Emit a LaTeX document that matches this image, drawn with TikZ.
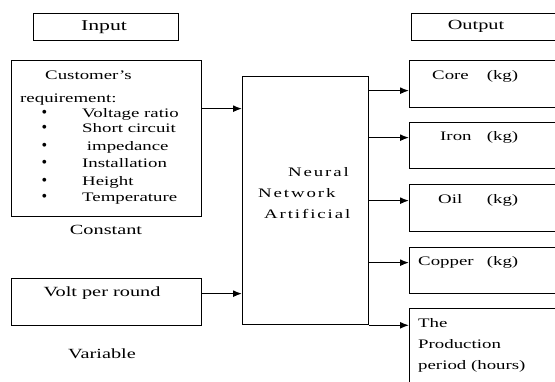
\documentclass[tikz,border=0pt]{standalone}
\usepackage{fontspec}
\setmainfont{Liberation Serif}
\newfontfamily\nnfont{Liberation Serif}[LetterSpace=10]
\usetikzlibrary{arrows.meta}
\newcommand\sx[1]{\scalebox{1.45}[1]{#1}}
\begin{document}
\begin{tikzpicture}[x=1pt,y=1pt,
  box/.style={draw,line width=1.3pt,inner sep=0pt,anchor=north west},
  txt/.style={inner sep=0pt,anchor=base west,font=\fontsize{13}{15}\selectfont},
  ctxt/.style={inner sep=0pt,anchor=base,font=\fontsize{13}{15}\selectfont},
  arr/.style={line width=1.3pt,-{Latex[length=9pt,width=7pt]}}]
\useasboundingbox (0,0) rectangle (555,-382);
\clip (0,0) rectangle (555,-382);
% boxes
\node[box,minimum width=145,minimum height=27] (inbox) at (33,-13) {};
\node[box,minimum width=150,minimum height=27] (outbox) at (411,-13) {};
\node[box,minimum width=190,minimum height=156] (cust) at (11,-60) {};
\node[box,minimum width=190,minimum height=47] (volt) at (11,-278) {};
\node[box,minimum width=126,minimum height=248] (nn) at (242,-76) {};
\node[box,minimum width=152,minimum height=47] (core) at (409,-60) {};
\node[box,minimum width=152,minimum height=46] (iron) at (409,-122) {};
\node[box,minimum width=152,minimum height=47] (oil) at (409,-184) {};
\node[box,minimum width=152,minimum height=46] (copper) at (409,-247) {};
\node[box,minimum width=152,minimum height=90] (prod) at (409,-308) {};
% texts
\node[ctxt,font=\fontsize{15}{17}\selectfont] (tin) at (104,-31) {\sx{Input}};
\node[ctxt,font=\fontsize{14}{17}\selectfont] (tout) at (476,-30) {\sx{Output}};
\node[txt] (t1) at (45,-80) {\sx{Customer's}};
\node[txt] (t2) at (20,-103) {\sx{requirement:}};
\foreach \y/\t [count=\i] in {118/Voltage ratio,133/Short circuit,151/\ impedance,168/Installation,186/Height,202/Temperature}{
  \node[txt,font=\fontsize{16}{15}\selectfont] (b\i) at (41.5,-\y) {\textbullet};
  \node[txt] (i\i) at (82,-\y) {\sx{\t}};
}
\node[ctxt,font=\fontsize{14}{15}\selectfont] (tconst) at (106,-235) {\sx{Constant}};
\node[ctxt,font=\fontsize{14}{15}\selectfont] (tvolt) at (102,-297) {\sx{Volt per round}};
\node[ctxt,font=\fontsize{14}{15}\selectfont] (tvar) at (102,-359) {\sx{Variable}};
\node[txt,font=\fontsize{13}{15}\nnfont] (n1) at (288,-177) {\sx{Neural}};
\node[txt,font=\fontsize{13}{15}\nnfont] (n2) at (258,-198) {\sx{Network}};
\node[txt,font=\fontsize{13}{15}\nnfont] (n3) at (264,-219) {\sx{Artificial}};
\node[txt] (tcore) at (432,-80) {\sx{\makebox[59.3pt][s]{Core\hfill(kg)}}};
\node[txt] (tiron) at (440,-141) {\sx{\makebox[53.8pt][s]{Iron\hfill(kg)}}};
\node[txt] (toil) at (438,-204) {\sx{\makebox[55.2pt][s]{Oil\hfill(kg)}}};
\node[txt] (tcop) at (418,-266) {\sx{\makebox[69pt][s]{Copper\hfill(kg)}}};
\node[txt] (p1) at (418,-328) {\sx{The}};
\node[txt] (p2) at (418,-349) {\sx{Production}};
\node[txt] (p3) at (418,-370) {\sx{period (hours)}};
% arrows
\draw[arr] ([yshift=30]cust.east) -- ([yshift=30]cust.east -| nn.west);
\draw[arr] ([yshift=8.5]volt.east) -- ([yshift=8.5]volt.east -| nn.west);
\draw[arr] ([yshift=-6.5]core.west -| nn.east) -- ([yshift=-6.5]core.west);
\draw[arr] ([yshift=8]iron.west -| nn.east) -- ([yshift=8]iron.west);
\draw[arr] ([yshift=7.5]oil.west -| nn.east) -- ([yshift=7.5]oil.west);
\draw[arr] ([yshift=8]copper.west -| nn.east) -- ([yshift=8]copper.west);
\draw[arr] (nn.south east) -- (nn.south east -| prod.west);
\end{tikzpicture}
\end{document}
